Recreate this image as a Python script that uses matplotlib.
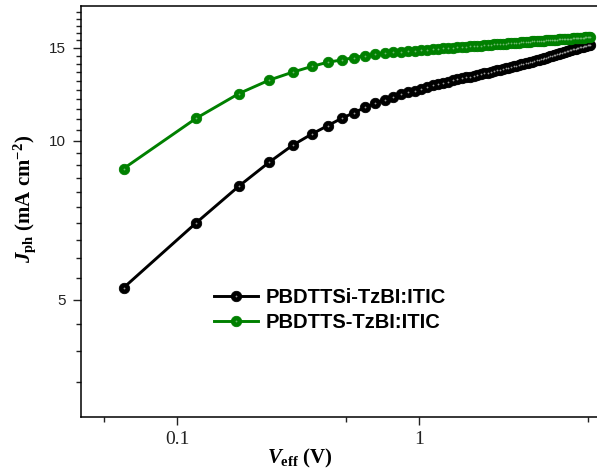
import matplotlib
matplotlib.use("Agg")
import matplotlib.pyplot as plt
from matplotlib.ticker import FixedLocator, NullFormatter, FixedFormatter

# effective voltage (V), same grid for both devices
v_eff = [0.06, 0.12, 0.18, 0.24, 0.30, 0.36, 0.42, 0.48, 0.54, 0.60,
         0.66, 0.72, 0.78, 0.84, 0.90, 0.96, 1.02, 1.08, 1.14, 1.20,
         1.26, 1.32, 1.38, 1.44, 1.50, 1.56, 1.62, 1.68, 1.74, 1.80,
         1.86, 1.92, 1.98, 2.04, 2.10, 2.16, 2.22, 2.28, 2.34, 2.40,
         2.46, 2.52, 2.58, 2.64, 2.70, 2.76, 2.82, 2.88, 2.94, 3.00,
         3.06, 3.12, 3.18, 3.24, 3.30, 3.36, 3.42, 3.48, 3.54, 3.60,
         3.66, 3.72, 3.78, 3.84, 3.90, 3.96, 4.02, 4.08, 4.14, 4.20,
         4.26, 4.32, 4.38, 4.44, 4.50, 4.56, 4.62, 4.68, 4.74, 4.80,
         4.86, 4.92, 4.98, 5.04, 5.10]

# Jph (mA cm-2)
jph_si = [5.27, 7.00, 8.21, 9.11, 9.81, 10.30, 10.69, 11.04, 11.31, 11.58,
          11.78, 11.96, 12.11, 12.24, 12.35, 12.45, 12.55, 12.64, 12.73, 12.81,
          12.88, 12.95, 13.02, 13.08, 13.13, 13.18, 13.23, 13.28, 13.33, 13.37,
          13.42, 13.46, 13.51, 13.55, 13.59, 13.63, 13.67, 13.71, 13.75, 13.79,
          13.83, 13.87, 13.91, 13.95, 13.98, 14.02, 14.06, 14.09, 14.13, 14.16,
          14.20, 14.23, 14.27, 14.31, 14.34, 14.38, 14.41, 14.45, 14.48, 14.52,
          14.55, 14.58, 14.62, 14.65, 14.68, 14.72, 14.75, 14.78, 14.81, 14.84,
          14.87, 14.90, 14.92, 14.95, 14.98, 15.01, 15.04, 15.06, 15.08, 15.10,
          15.12, 15.14, 15.16, 15.18, 15.20]

jph_s = [8.86, 11.04, 12.29, 13.03, 13.49, 13.83, 14.09, 14.23, 14.38, 14.50,
         14.57, 14.64, 14.70, 14.74, 14.78, 14.81, 14.85, 14.88, 14.91, 14.93,
         14.96, 14.99, 15.01, 15.03, 15.06, 15.08, 15.10, 15.12, 15.14, 15.15,
         15.17, 15.19, 15.21, 15.22, 15.24, 15.25, 15.27, 15.28, 15.30, 15.31,
         15.32, 15.34, 15.35, 15.36, 15.37, 15.39, 15.40, 15.41, 15.42, 15.43,
         15.44, 15.45, 15.46, 15.47, 15.48, 15.49, 15.50, 15.51, 15.52, 15.53,
         15.54, 15.55, 15.56, 15.57, 15.57, 15.58, 15.59, 15.60, 15.61, 15.62,
         15.62, 15.63, 15.64, 15.65, 15.65, 15.66, 15.67, 15.68, 15.68, 15.69,
         15.70, 15.70, 15.71, 15.72, 15.72]

labels = ["PBDTTSi-TzBI:ITIC", "PBDTTS-TzBI:ITIC"]
colors = ["#000000", "#008000"]
highlights = ["#9a9a9a", "#6fb86f"]

x_major = [0.1, 1]
x_minor = [0.05, 0.5, 5]
y_major = [5, 10, 15]
y_minor = [3.5, 4, 4.5, 5.5, 6, 6.5, 7, 7.5, 8, 8.5, 9, 9.5, 10.5, 11, 11.5,
           12, 12.5, 13, 13.5, 14, 14.5, 15.5, 16, 16.5, 17, 17.5]

plt.rcParams['mathtext.fontset'] = 'custom'
plt.rcParams['mathtext.rm'] = 'Liberation Serif:bold'
plt.rcParams['mathtext.it'] = 'Liberation Serif:italic:bold'
plt.rcParams['mathtext.bf'] = 'Liberation Serif:bold'

fig = plt.figure(figsize=(5.97, 4.73), dpi=100)
ax = fig.add_axes([81/597, 1-417/473, 516/597, 411/473])

handles = []
for y, c, h, lab in zip([jph_si, jph_s], colors, highlights, labels):
    ln, = ax.plot(v_eff, y, '-o', color=c, lw=2.1, ms=7.5, mfc=c, mec=c, mew=0.6)
    hl, = ax.plot(v_eff, y, 'o', ms=1.3, color=h, mec='none')
    handles.append((ln, hl))

ax.set_xscale('log')
ax.set_yscale('log')
ax.set_xlim(0.04, 5.44)
ax.set_ylim(3.0, 18.0)

ax.xaxis.set_major_locator(FixedLocator(x_major))
ax.xaxis.set_major_formatter(FixedFormatter(["0.1", "1"]))
ax.xaxis.set_minor_locator(FixedLocator(x_minor))
ax.xaxis.set_minor_formatter(NullFormatter())
ax.yaxis.set_major_locator(FixedLocator(y_major))
ax.yaxis.set_major_formatter(FixedFormatter(["5", "10", "15"]))
ax.yaxis.set_minor_locator(FixedLocator(y_minor))
ax.yaxis.set_minor_formatter(NullFormatter())

ax.spines['right'].set_visible(False)
for s in ['left', 'bottom', 'top']:
    ax.spines[s].set_linewidth(1.1)
ax.tick_params(which='major', direction='out', length=6, width=1.0, colors='#222222')
ax.tick_params(which='minor', direction='out', length=3.3, width=1.0, colors='#222222')
ax.tick_params(axis='y', which='major', pad=5)
ax.tick_params(axis='x', which='major', pad=4)
for t in ax.get_xticklabels():
    t.set_fontfamily('Liberation Serif')
    t.set_fontsize(14)
for t in ax.get_yticklabels():
    t.set_fontfamily('Liberation Sans')
    t.set_fontsize(11)

ax.set_xlabel(r'$V_{\mathrm{eff}}$ (V)', fontsize=15, fontweight='bold',
              family='Liberation Serif')
ax.xaxis.set_label_coords(0.424, -0.073)
ax.set_ylabel(r'$J_{\mathrm{ph}}$ (mA cm$^{-2}$)', fontsize=15, fontweight='bold',
              family='Liberation Serif')
ax.yaxis.set_label_coords(-0.083, 0.53)

leg = ax.legend(handles, labels, loc='upper left', bbox_to_anchor=(0.258, 0.313),
                frameon=False, borderaxespad=0, borderpad=0, handlelength=2.2,
                handletextpad=0.35, labelspacing=0.3,
                prop={'family': 'Liberation Sans', 'weight': 'bold', 'size': 14.5})

fig.savefig('out.png', dpi=100)
